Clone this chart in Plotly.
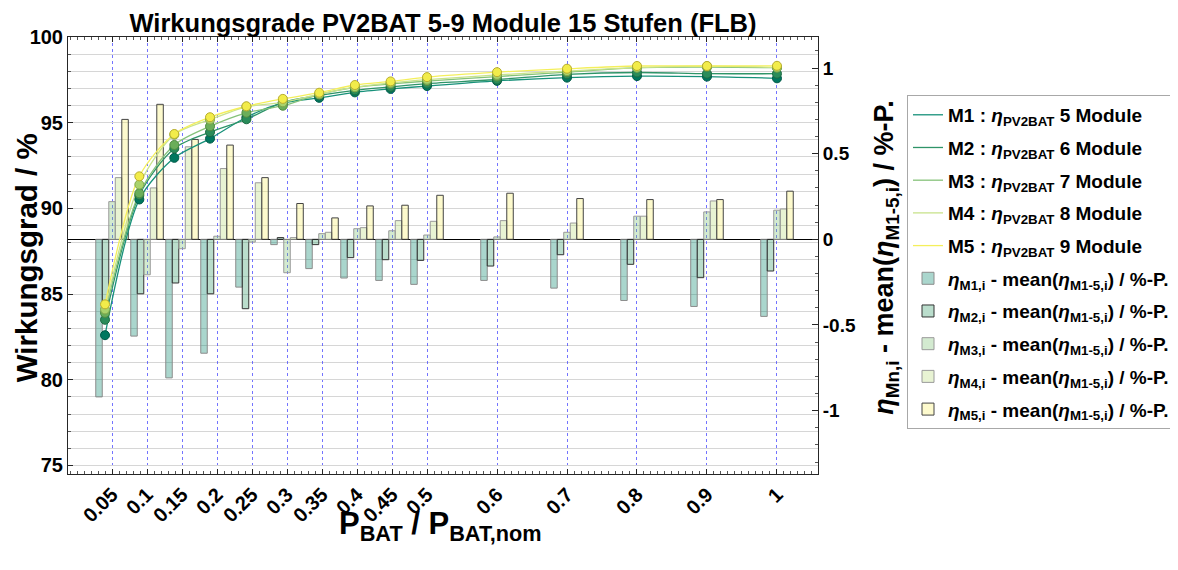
import plotly.graph_objects as go

# ---------------- data ----------------
x_line = [0.040, 0.089, 0.139, 0.190, 0.242, 0.294, 0.346, 0.397, 0.448, 0.500,
          0.600, 0.700, 0.800, 0.900, 1.000]
x_bar = [0.05, 0.1, 0.15, 0.2, 0.25, 0.3, 0.35, 0.4, 0.45, 0.5, 0.6, 0.7, 0.8, 0.9, 1.0]
x_ticktext = ["0.05", "0.1", "0.15", "0.2", "0.25", "0.3", "0.35", "0.4", "0.45", "0.5",
              "0.6", "0.7", "0.8", "0.9", "1"]

eta_M1 = [82.6, 90.52, 92.95, 94.07, 95.32, 96.15, 96.45, 96.77, 96.97, 97.14, 97.44, 97.63, 97.72, 97.69, 97.59]
eta_M2 = [83.5, 90.77, 93.50, 94.45, 95.20, 96.19, 96.59, 96.89, 97.09, 97.28, 97.52, 97.82, 97.93, 97.86, 97.86]
eta_M3 = [83.9, 90.88, 93.70, 94.79, 95.58, 95.99, 96.65, 97.06, 97.26, 97.43, 97.69, 97.95, 98.21, 98.24, 98.21]
eta_M4 = [84.1, 91.39, 94.30, 95.18, 95.93, 96.19, 96.66, 97.07, 97.32, 97.51, 97.79, 98.01, 98.21, 98.30, 98.22]
eta_M5 = [84.4, 91.87, 94.34, 95.32, 95.96, 96.39, 96.75, 97.20, 97.41, 97.66, 97.95, 98.15, 98.31, 98.31, 98.32]

dev_M1 = [-0.92, -0.565, -0.809, -0.665, -0.279, -0.031, -0.171, -0.226, -0.24, -0.263, -0.24, -0.285, -0.357, -0.392, -0.45]
dev_M2 = [-0.36, -0.318, -0.255, -0.318, -0.405, 0.01, -0.031, -0.107, -0.119, -0.123, -0.156, -0.09, -0.146, -0.224, -0.185]
dev_M3 = [0.22, -0.207, -0.055, 0.018, -0.016, -0.195, 0.033, 0.062, 0.05, 0.025, 0.014, 0.041, 0.135, 0.16, 0.17]
dev_M4 = [0.36, 0.30, 0.54, 0.413, 0.33, 0.01, 0.041, 0.068, 0.109, 0.105, 0.109, 0.095, 0.135, 0.224, 0.177]
dev_M5 = [0.70, 0.788, 0.583, 0.55, 0.36, 0.209, 0.125, 0.195, 0.199, 0.257, 0.269, 0.238, 0.232, 0.232, 0.281]

module_counts = [5, 6, 7, 8, 9]
names = ["M1", "M2", "M3", "M4", "M5"]
etas = [eta_M1, eta_M2, eta_M3, eta_M4, eta_M5]
devs = [dev_M1, dev_M2, dev_M3, dev_M4, dev_M5]

# ---------------- styles ----------------
line_colors = ["#17917a", "#2f9468", "#86c27a", "#c8e38c", "#f4ef5c"]
marker_colors = ["#00775f", "#2a8c5a", "#6aae5a", "#a9d26c", "#f2ec4a"]
marker_edges = ["#005a48", "#1d6b43", "#4f8a42", "#7fa64c", "#b8ad2e"]
bar_fills = ["rgba(6,135,109,0.34)", "rgba(40,150,95,0.32)", "rgba(110,185,100,0.30)",
             "rgba(180,215,110,0.30)", "rgba(248,240,90,0.30)"]
bar_edges = ["#8c8c8c", "#333333", "#9a9a9a", "#9a9a9a", "#444444"]

FONT = "Liberation Sans, Arial, sans-serif"

fig = go.Figure()

# bars (base y axis, right side)
for i in range(5):
    fig.add_trace(go.Bar(
        x=x_bar, y=devs[i], yaxis="y",
        name=f"<i>η</i><sub>{names[i]},i</sub> - mean(<i>η</i><sub>M1-5,i</sub>) / %-P.",
        marker=dict(color=bar_fills[i], line=dict(color=bar_edges[i], width=1)),
        legendrank=100 + i, legendgroup=f"b{i}",
    ))

# lines (overlay y2, left side) - line shown in legend, markers separately
for i in range(5):
    fig.add_trace(go.Scatter(
        x=x_line, y=etas[i], yaxis="y2", mode="lines",
        line=dict(color=line_colors[i], width=1.3, shape="spline", smoothing=0.8),
        name=f"{names[i]} : <i>η</i><sub>PV2BAT</sub> {module_counts[i]} Module",
        legendrank=i, legendgroup=f"l{i}",
    ))
for i in range(5):
    fig.add_trace(go.Scatter(
        x=x_line, y=etas[i], yaxis="y2", mode="markers",
        marker=dict(size=9, color=marker_colors[i], line=dict(color=marker_edges[i], width=1)),
        showlegend=False, legendgroup=f"l{i}", hoverinfo="skip",
    ))

# reference-screen coordinates of the plot area; the page body adds an 8px offset
OFF = 8
Ls, Rs, Ts, Bs = 68, 818, 37, 474.5
W, H = 1178 - OFF, 570 - OFF
pw, ph = Rs - Ls, Bs - Ts


def px(xs):
    return (xs - Ls) / pw


def py(ys):
    return (Bs - ys) / ph


fig.update_layout(
    width=W, height=H,
    margin=dict(l=Ls - OFF, r=W - (Rs - OFF), t=Ts - OFF, b=H - (Bs - OFF), pad=0,
                autoexpand=False),
    paper_bgcolor="white", plot_bgcolor="white",
    barmode="group", bargap=0.07, bargroupgap=0,
    font=dict(family=FONT, color="black", size=18, weight="bold"),
    title=dict(text="Wirkungsgrade PV2BAT 5-9 Module 15 Stufen (FLB)",
               x=0.5, xanchor="center", xref="paper",
               y=1 - (23 - OFF) / H, yanchor="middle", yref="container",
               font=dict(size=25.5, family=FONT, weight="bold")),
    xaxis=dict(
        range=[-0.0129, 1.0586], tickmode="array", tickvals=x_bar, ticktext=x_ticktext,
        tickangle=-45, tickfont=dict(size=20), automargin=False,
        showgrid=True, gridcolor="rgba(70,70,255,0.75)", griddash="dot", gridwidth=1,
        showline=True, linecolor="#262626", linewidth=1, mirror="ticks",
        ticks="inside", ticklen=5, tickcolor="#262626",
        minor=dict(dtick=0.01, ticks="inside", ticklen=3, tickcolor="#555", showgrid=False),
        zeroline=False,
    ),
    yaxis=dict(
        side="right", range=[-1.370, 1.181], automargin=False,
        tickmode="array", tickvals=[-1, -0.5, 0, 0.5, 1], ticktext=["-1", "-0.5", "0", "0.5", "1"],
        tickfont=dict(size=19), ticks="inside", ticklen=6, tickcolor="#262626",
        minor=dict(dtick=0.1, ticks="inside", ticklen=3, tickcolor="#555", showgrid=False),
        showgrid=False, zeroline=True, zerolinecolor="black", zerolinewidth=1,
        showline=True, linecolor="#262626", linewidth=1,
    ),
    yaxis2=dict(
        overlaying="y", side="left", range=[74.5, 100.001], automargin=False,
        tickmode="array", tickvals=[75, 80, 85, 90, 95, 100],
        tickfont=dict(size=20), ticks="inside", ticklen=5, tickcolor="#262626",
        showgrid=True, gridcolor="#d6d6d6", gridwidth=1,
        minor=dict(dtick=1, ticks="inside", ticklen=3, tickcolor="#555",
                   showgrid=True, gridcolor="#d6d6d6", gridwidth=1),
        zeroline=False, showline=True, linecolor="#262626", linewidth=1,
    ),
    legend=dict(
        x=px(907), y=py(95), xanchor="left", yanchor="top",
        bgcolor="white", bordercolor="#a8a8a8", borderwidth=1,
        font=dict(size=19, family=FONT, weight="bold"), itemwidth=30,
        tracegroupgap=5, traceorder="grouped",
    ),
    annotations=[
        dict(text="Wirkungsgrad / %", textangle=-90, xref="paper", yref="paper",
             x=px(26.5), y=py(258), xanchor="center", yanchor="middle",
             showarrow=False, font=dict(size=29.5, family=FONT, weight="bold")),
        dict(text="<i>η</i><sub>Mn,i</sub> - mean(<i>η</i><sub>M1-5,i</sub>) / %-P.",
             textangle=-90, xref="paper", yref="paper",
             x=px(886), y=py(258), xanchor="center", yanchor="middle",
             showarrow=False, font=dict(size=27, family=FONT, weight="bold")),
        dict(text="P<sub>BAT</sub> / P<sub>BAT,nom</sub>", xref="paper", yref="paper",
             x=px(440), y=py(505), xanchor="center", yanchor="top",
             showarrow=False, font=dict(size=31, family=FONT, weight="bold")),
    ],
)

fig.write_html("out.html")
